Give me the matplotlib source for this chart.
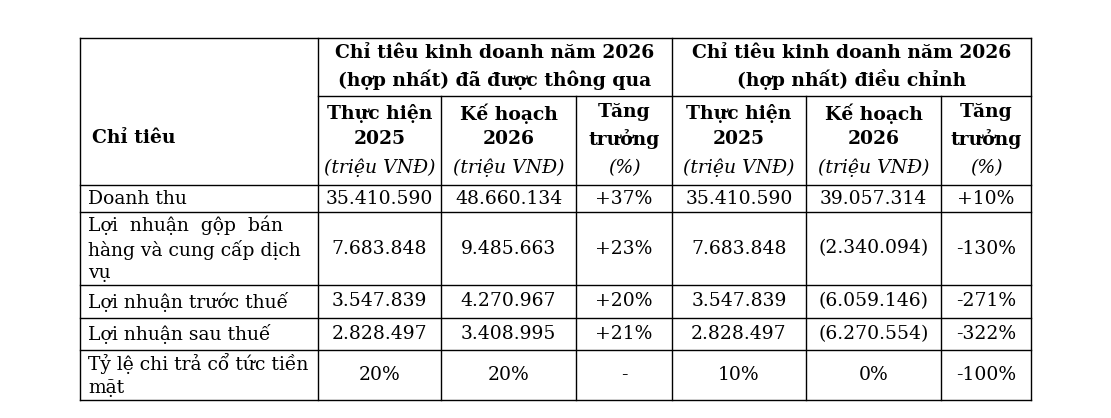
import matplotlib
matplotlib.use("Agg")
import matplotlib.pyplot as plt

# ── Data ─────────────────────────────────────────────────────────────────────
group_titles = ["Chỉ tiêu kinh doanh năm 2026\n(hợp nhất) đã được thông qua",
                "Chỉ tiêu kinh doanh năm 2026\n(hợp nhất) điều chỉnh"]
sub_titles = ["Thực hiện\n2025", "Kế hoạch\n2026", "Tăng\ntrưởng"]
sub_units = ["(triệu VNĐ)", "(triệu VNĐ)", "(%)"]
row_labels = ["Doanh thu",
              "Lợi  nhuận  gộp  bán\nhàng và cung cấp dịch\nvụ",
              "Lợi nhuận trước thuế",
              "Lợi nhuận sau thuế",
              "Tỷ lệ chi trả cổ tức tiền\nmặt"]
approved_2025 = ["35.410.590", "7.683.848", "3.547.839", "2.828.497", "20%"]
approved_2026 = ["48.660.134", "9.485.663", "4.270.967", "3.408.995", "20%"]
approved_growth = ["+37%", "+23%", "+20%", "+21%", "-"]
adjusted_2025 = ["35.410.590", "7.683.848", "3.547.839", "2.828.497", "10%"]
adjusted_2026 = ["39.057.314", "(2.340.094)", "(6.059.146)", "(6.270.554)", "0%"]
adjusted_growth = ["+10%", "-130%", "-271%", "-322%", "-100%"]

# ── Layout (pixels) ──────────────────────────────────────────────────────────
W, H = 1111, 418
col_x = [80, 318, 441, 576, 672, 806, 941, 1031]
head_y = [38, 96, 185]
row_y = [185, 212, 285, 318, 350, 400]
FONT = "DejaVu Serif"
FS = 13.5

fig = plt.figure(figsize=(W / 100, H / 100), dpi=100)
ax = fig.add_axes([0, 0, 1, 1])
ax.set_xlim(0, W)
ax.set_ylim(H, 0)
ax.axis("off")

lw = 1.0
# outer box and horizontal lines
for y in [head_y[0], head_y[2]] + row_y[1:]:
    ax.plot([col_x[0], col_x[-1]], [y, y], color="black", lw=lw)
ax.plot([col_x[1], col_x[-1]], [head_y[1], head_y[1]], color="black", lw=lw)
for i, x in enumerate(col_x):
    top = head_y[1] if i in (2, 3, 5, 6) else head_y[0]
    ax.plot([x, x], [top, row_y[-1]], color="black", lw=lw)

# headers
ax.text(col_x[0] + 12, 138, "Chỉ tiêu", fontsize=FS, fontweight="bold",
        family=FONT, va="center", ha="left")
for g, title in enumerate(group_titles):
    xc = (col_x[1 + 3 * g] + col_x[4 + 3 * g]) / 2
    ax.text(xc, 67, title, fontsize=FS, fontweight="bold", family=FONT,
            ha="center", va="center", linespacing=1.4)
    for k in range(3):
        xc = (col_x[1 + 3 * g + k] + col_x[2 + 3 * g + k]) / 2
        ax.text(xc, 126, sub_titles[k], fontsize=FS, fontweight="bold",
                family=FONT, ha="center", va="center", linespacing=1.45)
        ax.text(xc, 168, sub_units[k], fontsize=FS, style="italic",
                family=FONT, ha="center", va="center")

# body
cols = [approved_2025, approved_2026, approved_growth,
        adjusted_2025, adjusted_2026, adjusted_growth]
for r, label in enumerate(row_labels):
    yc = (row_y[r] + row_y[r + 1]) / 2
    ax.text(col_x[0] + 8, yc, label, fontsize=FS, family=FONT,
            ha="left", va="center", linespacing=1.3)
    for c, vals in enumerate(cols):
        xc = (col_x[1 + c] + col_x[2 + c]) / 2
        ax.text(xc, yc, vals[r], fontsize=FS, family=FONT,
                ha="center", va="center")

fig.savefig("out.png", dpi=100)
